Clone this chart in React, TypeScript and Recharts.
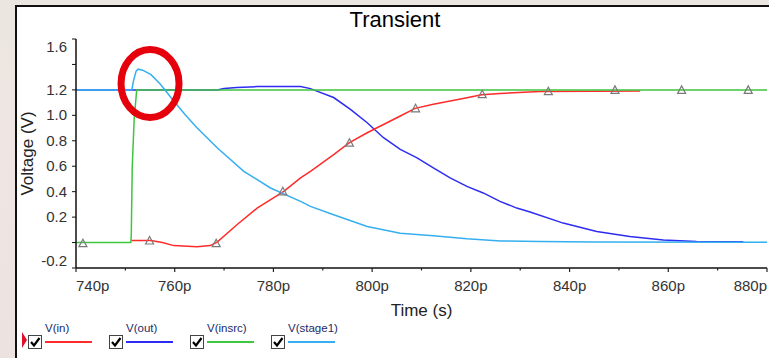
import {
  ComposedChart,
  Line,
  Scatter,
  XAxis,
  YAxis,
  ReferenceDot,
  Legend,
} from "recharts";

// time in ps, value in volts
const vIn: [number, number][] = [
  [751.2, 0.016], [755.2, 0.016], [757.5, 0.0], [759.8, -0.024], [764.5, -0.032],
  [767.2, -0.024], [768.6, 0.003], [772.6, 0.14], [776.7, 0.271], [782.1, 0.403],
  [785.5, 0.508], [787.5, 0.56], [792.2, 0.692], [795.4, 0.785], [799, 0.863],
  [805.7, 0.995], [808.7, 1.055], [812.4, 1.087], [819.2, 1.138], [822.2, 1.162],
  [825.9, 1.172], [834, 1.187], [845, 1.19], [854.3, 1.192],
];

const vOut: [number, number][] = [
  [740, 1.2], [768.6, 1.2], [770, 1.21], [772.6, 1.218], [776.7, 1.226],
  [785.5, 1.226], [787.5, 1.21], [788.8, 1.19], [792.2, 1.14], [795.6, 1.047],
  [799, 0.942], [802.3, 0.824], [805.7, 0.732], [809.1, 0.666], [812.4, 0.587],
  [815.8, 0.508], [819.2, 0.442], [822.5, 0.39], [825.9, 0.324], [829.3, 0.271],
  [832, 0.24], [838.7, 0.153], [845.5, 0.087], [852.2, 0.047], [859, 0.021],
  [865.7, 0.008], [875.2, 0.006],
];

const vInsrc: [number, number][] = [
  [740, 0], [751.1, 0], [751.2, 0.06], [751.4, 0.6], [751.8, 0.98],
  [752.3, 1.2], [880, 1.2],
];

const vStage1: [number, number][] = [
  [740, 1.2], [751.3, 1.2], [751.7, 1.28], [752.2, 1.35], [752.6, 1.363],
  [753.5, 1.355], [755.2, 1.32], [757.1, 1.245], [759.8, 1.113], [762, 1.01],
  [764.5, 0.903], [768.6, 0.745], [774, 0.56], [779.4, 0.429], [785.5, 0.324],
  [787.5, 0.284], [792.2, 0.219], [799, 0.126], [805.7, 0.074], [812.4, 0.053],
  [819.2, 0.029], [826, 0.013], [834, 0.008], [845, 0.005], [880, 0.003],
];

const markers: [number, number][] = [
  [741.4, -0.005], [754.9, 0.016], [768.4, -0.005], [781.9, 0.403], [795.4, 0.785],
  [808.8, 1.055], [822.3, 1.166], [835.7, 1.19], [849.2, 1.2], [862.7, 1.2],
  [876.2, 1.2],
];

const X_TICKS = [740, 750, 760, 770, 780, 790, 800, 810, 820, 830, 840, 850, 860, 870, 880];
const Y_TICKS = [-0.2, 0, 0.2, 0.4, 0.6, 0.8, 1.0, 1.2, 1.4, 1.6];
const HIDDEN_Y = [0, 1.4];
const LEGEND_ORDER = ["V(in)", "V(out)", "V(insrc)", "V(stage1)"];

const toPts = (arr: [number, number][]) => arr.map(([t, v]) => ({ t, v }));

const FONT = '"Liberation Sans", Arial, sans-serif';

function YTick(props: any) {
  const { x, y, payload } = props;
  const v = Number(payload.value);
  if (HIDDEN_Y.some((h) => Math.abs(h - v) < 1e-6)) return <g />;
  // end labels are nudged inside the axis, like the simulator does
  let dy = 5;
  if (Math.abs(v - 1.6) < 1e-6) dy = 13;
  if (Math.abs(v + 0.2) < 1e-6) dy = -2;
  return (
    <text x={x} y={y + dy} textAnchor="end" fontSize={15} fill="#333" fontFamily={FONT}>
      {v.toFixed(1)}
    </text>
  );
}

function XTick(props: any) {
  const { x, y, payload, index } = props;
  const v = Number(payload.value);
  const axisY = y - 6;
  const major = v % 20 === 0;
  let anchor = "middle";
  if (index === 0) anchor = "start";
  if (index === X_TICKS.length - 1) anchor = "end";
  return (
    <g>
      <line x1={x} x2={x} y1={axisY} y2={axisY + (major ? 4 : 2.5)} stroke="#222" strokeWidth={1.2} />
      {major && (
        <text x={x} y={axisY + 23} textAnchor={anchor} fontSize={15} fill="#333" fontFamily={FONT}>
          {v}p
        </text>
      )}
    </g>
  );
}

function CheckBox() {
  return (
    <svg width={14} height={14} style={{ display: "block" }}>
      <rect x={0.5} y={0.5} width={13} height={13} fill="#fff" stroke="#444" />
      <path d="M3 7 L6 10.5 L11.5 3" fill="none" stroke="#000" strokeWidth={2.2} />
    </svg>
  );
}

function LegendBox({ payload }: any) {
  const items = (payload || [])
    .filter((p: any) => LEGEND_ORDER.includes(p.value))
    .sort((a: any, b: any) => LEGEND_ORDER.indexOf(a.value) - LEGEND_ORDER.indexOf(b.value));
  return (
    <div style={{ position: "relative", display: "flex", fontFamily: FONT }}>
      <svg width={6} height={16} style={{ position: "absolute", left: -6, top: 10 }}>
        <path d="M0 0 L5 8 L0 16 Z" fill="#e0102a" />
      </svg>
      {items.map((p: any) => (
        <div key={p.value} style={{ display: "flex", width: 81 }}>
          <div style={{ marginTop: 13 }}>
            <CheckBox />
          </div>
          <div style={{ marginLeft: 3, width: 47 }}>
            <div style={{ fontSize: 11.5, lineHeight: "13px", color: "#1c2a6a", whiteSpace: "nowrap" }}>
              {p.value}
            </div>
            <div style={{ height: 1.5, background: p.color, marginTop: 6 }} />
          </div>
        </div>
      ))}
    </div>
  );
}

function Highlight(props: any) {
  const { cx, cy } = props;
  return <ellipse cx={cx} cy={cy} rx={29} ry={34} fill="none" stroke="#e6000c" strokeWidth={7} />;
}

function Triangle(props: any) {
  const { cx, cy } = props;
  return (
    <path
      d={`M${cx} ${cy - 4} L${cx - 4} ${cy + 3.5} L${cx + 4} ${cy + 3.5} Z`}
      fill="none"
      stroke="#7a7a7a"
      strokeWidth={1.2}
    />
  );
}

export default function App() {
  return (
    <div
      style={{
        position: "fixed",
        left: 0,
        top: 0,
        width: 769,
        height: 358,
        overflow: "hidden",
        background: "linear-gradient(180deg, #ebe6df 0%, #efe6e4 40%, #ece3e0 100%)",
        fontFamily: FONT,
      }}
    >
      <div
        style={{
          position: "absolute",
          left: 15,
          top: 5,
          right: -10,
          bottom: -10,
          background: "#fff",
          borderLeft: "2px solid #111",
          borderTop: "2px solid #111",
        }}
      />
      <div
        style={{
          position: "absolute",
          left: 295,
          top: 9,
          width: 200,
          textAlign: "center",
          fontSize: 22,
          lineHeight: "22px",
          color: "#000",
        }}
      >
        Transient
      </div>
      <div style={{ position: "absolute", left: 0, top: 0 }}>
        <ComposedChart width={769} height={358} margin={{ top: 39, right: 2, bottom: 60, left: 0 }}>
          <XAxis
            type="number"
            dataKey="t"
            domain={[740, 880]}
            ticks={X_TICKS}
            interval={0}
            allowDataOverflow
            height={30}
            tickSize={4}
            tickMargin={2}
            tickLine={false}
            axisLine={{ stroke: "#111", strokeWidth: 1.5 }}
            tick={<XTick />}
            label={{
              value: "Time (s)",
              position: "bottom",
              offset: 6,
              fontSize: 17,
              fill: "#222",
              fontFamily: FONT,
            }}
          />
          <YAxis
            type="number"
            dataKey="v"
            domain={[-0.2, 1.6]}
            ticks={Y_TICKS}
            interval={0}
            allowDataOverflow
            width={76}
            tickSize={4}
            tickMargin={5}
            tickLine={{ stroke: "#111" }}
            axisLine={{ stroke: "#111", strokeWidth: 1.5 }}
            tick={<YTick />}
            label={{
              value: "Voltage (V)",
              angle: -90,
              position: "center",
              dx: -11,
              fontSize: 17,
              fill: "#222",
              fontFamily: FONT,
            }}
          />
          <Line data={toPts(vOut)} dataKey="v" name="V(out)" type="linear" stroke="#2c2cf2" strokeWidth={1.5} dot={false} isAnimationActive={false} />
          <Line data={toPts(vIn)} dataKey="v" name="V(in)" type="linear" stroke="#ff2b2b" strokeWidth={1.5} dot={false} isAnimationActive={false} />
          <Line data={toPts(vInsrc)} dataKey="v" name="V(insrc)" type="linear" stroke="#3ec63e" strokeWidth={1.5} dot={false} isAnimationActive={false} />
          <Line data={toPts(vStage1)} dataKey="v" name="V(stage1)" type="linear" stroke="#36aff0" strokeWidth={1.5} dot={false} isAnimationActive={false} />
          <Scatter data={toPts(markers)} dataKey="v" name="markers" legendType="none" shape={<Triangle />} isAnimationActive={false} />
          <ReferenceDot x={755} y={1.25} r={30} ifOverflow="visible" shape={<Highlight />} />
          <Legend
            layout="vertical"
            align="center"
            verticalAlign="middle"
            wrapperStyle={{ left: 28, top: 322, width: "auto" }}
            content={<LegendBox />}
          />
        </ComposedChart>
      </div>
    </div>
  );
}
